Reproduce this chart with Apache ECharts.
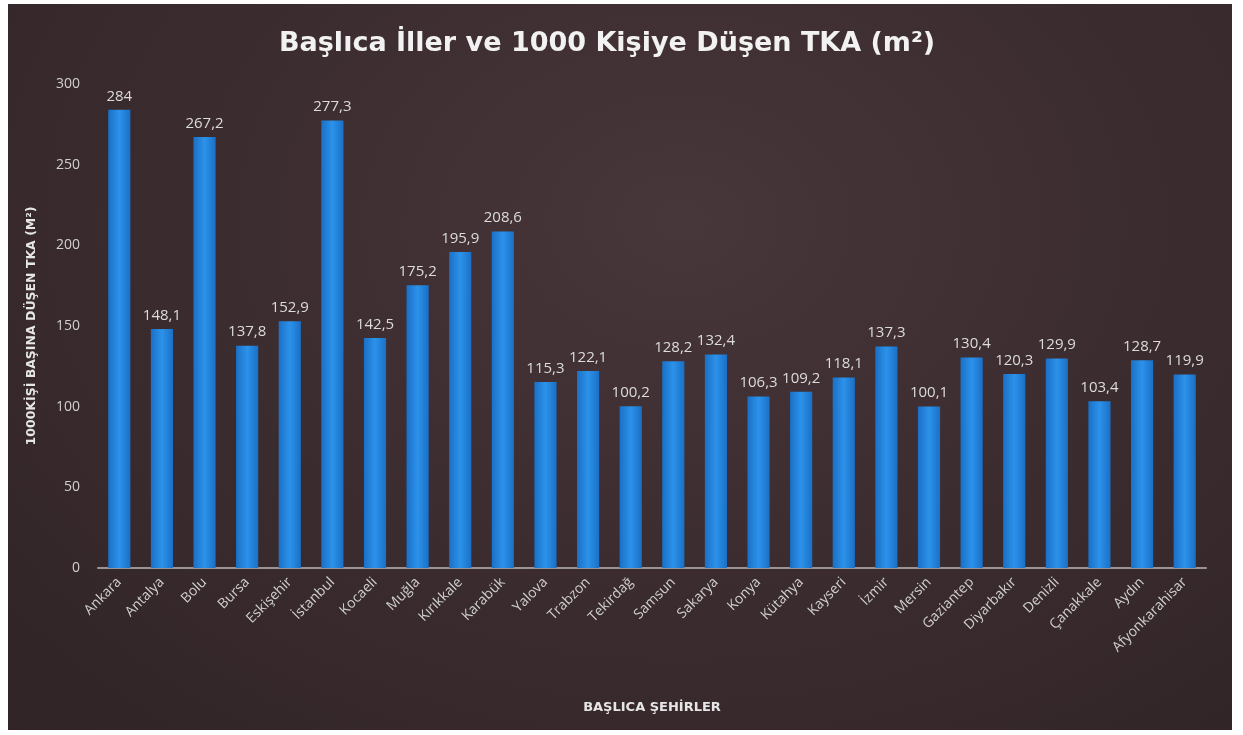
<!DOCTYPE html>
<html>
<head>
<meta charset="utf-8">
<title>Başlıca İller ve 1000 Kişiye Düşen TKA</title>
<script src="https://cdn.jsdelivr.net/npm/echarts@6/dist/echarts.min.js"></script>
<style>
  html, body { margin: 0; padding: 0; background: #ffffff; }
  .panel {
    position: absolute;
    left: 8px; top: 4px; width: 1224px; height: 726px;
    background: radial-gradient(ellipse at 55% 30%, #47363a 0%, #3a2b2e 55%, #302427 100%);
  }
  #main { position: absolute; left: 0; top: 0; width: 1243px; height: 735px; }
</style>
</head>
<body>
<div class="panel"></div>
<div id="main"></div>
<script>
  // şehirler ve 1000 kişiye düşen TKA (m²)
  const cities = ["Ankara", "Antalya", "Bolu", "Bursa", "Eskişehir", "İstanbul", "Kocaeli",
    "Muğla", "Kırıkkale", "Karabük", "Yalova", "Trabzon", "Tekirdağ", "Samsun", "Sakarya",
    "Konya", "Kütahya", "Kayseri", "İzmir", "Mersin", "Gaziantep", "Diyarbakır", "Denizli",
    "Çanakkale", "Aydın", "Afyonkarahisar"];
  const tkaValues = [284, 148.1, 267.2, 137.8, 152.9, 277.3, 142.5, 175.2, 195.9, 208.6,
    115.3, 122.1, 100.2, 128.2, 132.4, 106.3, 109.2, 118.1, 137.3, 100.1, 130.4, 120.3,
    129.9, 103.4, 128.7, 119.9];
  const yTicks = [0, 50, 100, 150, 200, 250, 300];

  const chart = echarts.init(document.getElementById("main"));
  const font = "'Open Sans', 'Noto Sans', sans-serif";
  const boldFont = "'DejaVu Sans', 'Open Sans', sans-serif";

  const option = {
    backgroundColor: "transparent",
    title: {
      text: "Başlıca İller ve 1000 Kişiye Düşen TKA (m²)",
      left: 274,
      top: 25,
      textStyle: { color: "#f2f2f2", fontSize: 27, fontWeight: "bold", fontFamily: boldFont }
    },
    grid: { left: 98, right: 37, top: 84, bottom: 167, containLabel: false },
    xAxis: {
      type: "category",
      data: cities,
      name: "BAŞLICA ŞEHİRLER",
      nameLocation: "middle",
      nameGap: 133,
      nameTextStyle: { color: "#e6e6e6", fontSize: 13, fontWeight: "bold", fontFamily: boldFont },
      axisLine: { lineStyle: { color: "#9a9494", width: 2 } },
      axisTick: { show: false },
      axisLabel: {
        rotate: 45,
        interval: 0,
        color: "#cfcfcf",
        fontSize: 14,
        fontFamily: font,
        margin: 12
      }
    },
    yAxis: {
      type: "value",
      min: yTicks[0],
      max: yTicks[yTicks.length - 1],
      interval: 50,
      name: "1000KİŞİ BAŞINA DÜŞEN TKA (M²)",
      nameLocation: "middle",
      nameGap: 60,
      nameTextStyle: { color: "#e6e6e6", fontSize: 12.5, fontWeight: "bold", fontFamily: boldFont },
      axisLine: { show: false },
      axisTick: { show: false },
      splitLine: { show: false },
      axisLabel: { color: "#d0d0d0", fontSize: 14, fontFamily: font, margin: 18 }
    },
    series: [
      {
        type: "bar",
        data: tkaValues,
        barWidth: "52%",
        itemStyle: {
          color: new echarts.graphic.LinearGradient(0, 0, 1, 0, [
            { offset: 0, color: "#1a70c6" },
            { offset: 0.5, color: "#2c92ea" },
            { offset: 1, color: "#1a70c6" }
          ])
        },
        label: {
          show: true,
          position: "top",
          distance: 6,
          color: "#dcdcdc",
          fontSize: 15,
          fontFamily: font,
          formatter: (p) => String(p.value).replace(".", ",")
        }
      }
    ]
  };

  chart.setOption(option);
</script>
</body>
</html>
